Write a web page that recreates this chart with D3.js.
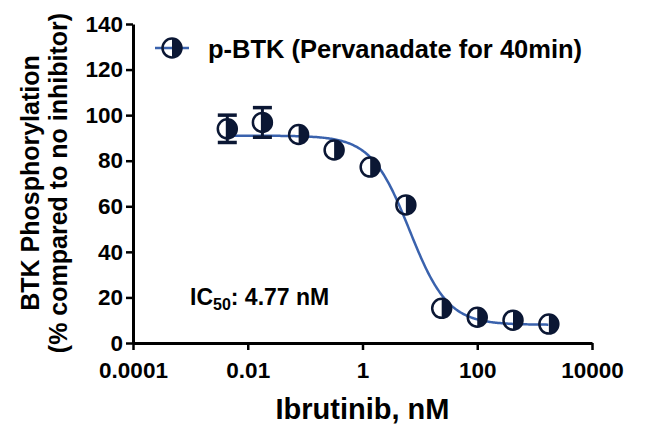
<!DOCTYPE html>
<html>
<head>
<meta charset="utf-8">
<script src="https://cdn.jsdelivr.net/npm/d3@7"></script>
<style>
  body { margin: 0; background: #fff; }
  text { font-family: "Liberation Sans", Arial, sans-serif; font-weight: bold; fill: #000; }
</style>
</head>
<body>
<div id="chart"></div>
<script>
// data
var conc = [0.0044, 0.018, 0.077, 0.32, 1.36, 5.7, 24, 100, 420, 1770];
var response = [94, 96.8, 91.5, 84.7, 77.2, 60.6, 15.2, 11.3, 10, 8.3];
var errors = [6, 6.5, 0, 0, 0, 0, 0, 0, 0, 0];
var xTicks = [0.0001, 0.01, 1, 100, 10000];
var xTickLabels = ["0.0001", "0.01", "1", "100", "10000"];
var yTicks = [0, 20, 40, 60, 80, 100, 120, 140];
// fitted curve params (4PL)
var fitTop = 91, fitBottom = 8, fitLogIC50 = 0.82, fitHill = 1.3;

var svgWidth = 647, svgHeight = 431;
var margin = { top: 24, right: 55, bottom: 88, left: 133 };
var width = svgWidth - margin.left - margin.right;
var height = svgHeight - margin.top - margin.bottom;

var navy = "#0b1734";
var blue = "#3a62ad";

var svg = d3.select("#chart").append("svg")
  .attr("width", svgWidth)
  .attr("height", svgHeight);

var chartGroup = svg.append("g")
  .attr("transform", `translate(${margin.left}, ${margin.top})`);

var xScale = d3.scaleLog().domain([0.0001, 10000]).range([0, width]);
var yScale = d3.scaleLinear().domain([0, 140]).range([height, 0]);

// axes
var xAxis = chartGroup.append("g")
  .attr("transform", `translate(0, ${height})`)
  .call(d3.axisBottom(xScale).tickValues(xTicks).tickSize(7).tickSizeOuter(0)
    .tickFormat(function(d, i) { return xTickLabels[i]; }));
var yAxis = chartGroup.append("g")
  .call(d3.axisLeft(yScale).tickValues(yTicks).tickSize(7).tickSizeOuter(0));

[xAxis, yAxis].forEach(function(ax) {
  ax.select(".domain").attr("stroke", "#000").attr("stroke-width", 3);
  ax.selectAll(".tick line").attr("stroke", "#000").attr("stroke-width", 2.5);
  ax.selectAll(".tick text").style("font-size", "22.5px")
    .style("font-family", "'Liberation Sans', Arial, sans-serif").style("font-weight", "bold").attr("fill", "#000");
});
xAxis.selectAll(".tick text").attr("y", 19).attr("dy", "0.71em");
yAxis.selectAll(".tick text").attr("x", -10);

// axis titles
svg.append("text")
  .attr("x", margin.left + width / 2)
  .attr("y", 419)
  .attr("text-anchor", "middle")
  .style("font-size", "29px")
  .text("Ibrutinib, nM");

var yTitle = svg.append("g")
  .attr("transform", "translate(0, 183) rotate(-90)");
yTitle.append("text").attr("x", 0).attr("y", 39).attr("text-anchor", "middle")
  .style("font-size", "25px").text("BTK Phosphorylation");
yTitle.append("text").attr("x", 0).attr("y", 67).attr("text-anchor", "middle")
  .style("font-size", "25px").text("(% compared to no inhibitor)");

// fitted curve
function fit(logx) {
  return fitBottom + (fitTop - fitBottom) / (1 + Math.pow(10, (logx - fitLogIC50) * fitHill));
}
var curvePts = d3.range(-2.36, 3.26, 0.02).map(function(lx) { return [Math.pow(10, lx), fit(lx)]; });
chartGroup.append("path")
  .datum(curvePts)
  .attr("fill", "none")
  .attr("stroke", blue)
  .attr("stroke-width", 2.5)
  .attr("d", d3.line().x(function(d) { return xScale(d[0]); }).y(function(d) { return yScale(d[1]); }));

var points = conc.map(function(c, i) { return { x: c, y: response[i], e: errors[i] }; });

// error bars
var errG = chartGroup.selectAll(".err").data(points.filter(function(d) { return d.e > 0; }))
  .enter().append("g").attr("class", "err");
errG.append("line")
  .attr("x1", function(d) { return xScale(d.x); })
  .attr("x2", function(d) { return xScale(d.x); })
  .attr("y1", function(d) { return yScale(d.y + d.e); })
  .attr("y2", function(d) { return yScale(d.y - d.e); })
  .attr("stroke", navy).attr("stroke-width", 3);
[1, -1].forEach(function(s) {
  errG.append("line")
    .attr("x1", function(d) { return xScale(d.x) - 9.5; })
    .attr("x2", function(d) { return xScale(d.x) + 9.5; })
    .attr("y1", function(d) { return yScale(d.y + s * d.e); })
    .attr("y2", function(d) { return yScale(d.y + s * d.e); })
    .attr("stroke", navy).attr("stroke-width", 3.5);
});

// half filled markers
var r = 9.5;
var halfArc = d3.arc().innerRadius(0).outerRadius(r).startAngle(0).endAngle(Math.PI);
function drawMarker(g) {
  g.append("circle").attr("r", r).attr("fill", "none").attr("stroke", navy).attr("stroke-width", 2.5);
  g.append("path").attr("d", halfArc).attr("fill", navy);
}
chartGroup.selectAll(".pt").data(points).enter().append("g")
  .attr("class", "pt")
  .attr("transform", function(d) { return `translate(${xScale(d.x)}, ${yScale(d.y)})`; })
  .each(function() { drawMarker(d3.select(this)); });

// legend
var legend = svg.append("g").attr("transform", "translate(172, 48)");
legend.append("line").attr("x1", -17).attr("x2", 17).attr("y1", 0).attr("y2", 0)
  .attr("stroke", blue).attr("stroke-width", 2.5);
drawMarker(legend);
svg.append("text").attr("x", 208).attr("y", 58)
  .style("font-size", "25.5px")
  .text("p-BTK (Pervanadate for 40min)");

// IC50 annotation
var ic = svg.append("text").attr("x", 190).attr("y", 305).style("font-size", "23px");
ic.append("tspan").text("IC");
ic.append("tspan").attr("dy", 5).style("font-size", "16px").text("50");
ic.append("tspan").attr("dy", -5).text(": 4.77 nM");
</script>
</body>
</html>
